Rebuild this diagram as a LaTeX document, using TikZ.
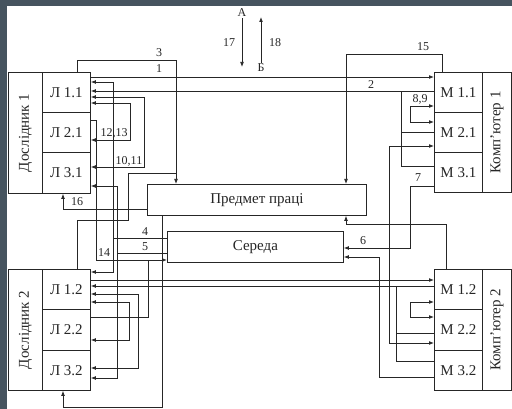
\documentclass[tikz,border=0pt]{standalone}
\usepackage{fontspec}
\setmainfont{Liberation Serif}
\usetikzlibrary{arrows.meta, positioning, calc}
\definecolor{dframe}{HTML}{46545F}
\definecolor{dline}{HTML}{262626}
\tikzset{
  blk/.style={draw=dline, line width=0.8pt, inner sep=0pt, anchor=north west,
              minimum width=48pt, font=\fontsize{15}{17}\selectfont, text=dline},
  wire/.style={draw=dline, line width=0.75pt},
  arr/.style={wire, -{Latex[length=5pt, width=3.8pt]}},
  barr/.style={wire, {Latex[length=5pt, width=3.8pt]}-{Latex[length=5pt, width=3.8pt]}},
  lbl/.style={font=\fontsize{12}{14}\selectfont, inner sep=1pt, text=dline},
}

\begin{document}
\begin{tikzpicture}[x=1pt, y=-1pt]

  \useasboundingbox (0,0) rectangle (512,409);
  \fill[dframe] (0,0) rectangle (512,409);
  \fill[white] (7,6) rectangle (512,409);

  % researchers
  \node[blk, minimum width=34pt, minimum height=121pt] (D1) at (8,72) {\rotatebox{90}{Дослідник 1}};
  \node[blk, minimum height=40pt] (L11) at (42,72) {Л 1.1};
  \node[blk, minimum height=40pt] (L21) at (42,112) {Л 2.1};
  \node[blk, minimum height=41pt] (L31) at (42,152) {Л 3.1};
  \node[blk, minimum width=34pt, minimum height=121pt] (D2) at (8,269) {\rotatebox{90}{Дослідник 2}};
  \node[blk, minimum height=40pt] (L12) at (42,269) {Л 1.2};
  \node[blk, minimum height=41pt] (L22) at (42,309) {Л 2.2};
  \node[blk, minimum height=40pt] (L32) at (42,350) {Л 3.2};

  % computers
  \node[blk, minimum width=29pt, minimum height=120pt] (K1) at (482,72) {\rotatebox{90}{Комп'ютер 1}};
  \node[blk, minimum height=40pt] (M11) at (434,72) {М 1.1};
  \node[blk, minimum height=40pt] (M21) at (434,112) {М 2.1};
  \node[blk, minimum height=40pt] (M31) at (434,152) {М 3.1};
  \node[blk, minimum width=29pt, minimum height=121pt] (K2) at (482,269) {\rotatebox{90}{Комп'ютер 2}};
  \node[blk, minimum height=40pt] (M12) at (434,269) {М 1.2};
  \node[blk, minimum height=41pt] (M22) at (434,309) {М 2.2};
  \node[blk, minimum height=40pt] (M32) at (434,350) {М 3.2};

  % subject of labour, environment
  \node[blk, minimum width=219pt, minimum height=31pt] (PP) at (147,184) {Предмет праці};
  \node[blk, minimum width=176pt, minimum height=31pt] (SE) at (167,231) {Середа};

  % top links
  \draw[arr] (L11.north -| 77,0) -- (77,60) -- (176,60) -- (PP.north -| 176,0);
  \draw[wire] (176,173) -- (128,173) -- (128,220) -- (77,220) -- (L12.north -| 77,0);
  \draw[arr] (L11.east |- 0,77) -- (M11.west |- 0,77);
  \draw[arr] (M11.west |- 0,91) -- (L11.east |- 0,91);
  \draw[wire] (M31.west |- 0,166) -- (401,166) -- (401,91);
  \draw[wire] (M21.west |- 0,132) -- (401,132);
  \draw[arr] (M11.north -| 442,0) -- (442,54) -- (346,54) -- (PP.north -| 346,0);
  \draw[barr] (M11.west |- 0,106) -- (410,106) -- (410,122) -- (M21.west |- 0,122);
  \draw[barr] (M21.west |- 0,146) -- (389,146) -- (389,343) -- (M22.west |- 0,343);
  \draw[arr] (M31.west |- 0,186) -- (410,186) -- (410,248) -- (SE.east |- 0,248);
  \draw[arr] (M32.west |- 0,377) -- (379,377) -- (379,257) -- (SE.east |- 0,257);
  \draw[arr] (M12.north -| 446,0) -- (446,224) -- (346,224) -- (PP.south -| 346,0);

  % researcher 2 -- computer 2
  \draw[arr] (L12.east |- 0,280) -- (M12.west |- 0,280);
  \draw[arr] (M12.west |- 0,286) -- (L12.east |- 0,286);
  \draw[wire] (M32.west |- 0,361) -- (396,361) -- (396,286);
  \draw[wire] (M22.west |- 0,333) -- (396,333);
  \draw[barr] (M12.west |- 0,302) -- (410,302) -- (410,317) -- (M22.west |- 0,317);

  % left side
  \draw[wire] (SE.west |- 0,238) -- (113,238);
  \draw[barr] (L11.east |- 0,82) -- (113,82) -- (113,272) -- (L12.east |- 0,272);
  \draw[wire] (SE.west |- 0,253) -- (117,253);
  \draw[barr] (L31.east |- 0,186) -- (117,186) -- (117,378) -- (L32.east |- 0,378);
  \draw[barr] (L11.east |- 0,97) -- (144,97) -- (144,167) -- (L31.east |- 0,167);
  \draw[barr] (L11.east |- 0,103) -- (130,103) -- (130,140) -- (L21.east |- 0,140);
  \draw[arr] (L21.east |- 0,120) -- (96,120) -- (96,260) -- (SE.west |- 0,260);
  \draw[wire] (L22.east |- 0,317) -- (148,317) -- (148,260);
  \draw[barr] (L12.east |- 0,294) -- (138,294) -- (138,368) -- (L32.east |- 0,368);
  \draw[barr] (L12.east |- 0,302) -- (129,302) -- (129,340) -- (L22.east |- 0,340);
  \draw[arr] (PP.west |- 0,209) -- (63,209) -- (L31.south -| 63,0);
  \draw[arr] (PP.south -| 162,0) -- (162,407) -- (63,407) -- (L32.south -| 63,0);

  % inputs / outputs
  \node[lbl] (inA) at (242,13) {А};
  \node[lbl] (outB) at (261,68) {Б};
  \coordinate (inA end) at (242,67);
  \coordinate (outB end) at (261,17);
  \draw[arr] (inA.south) -- (inA end);
  \draw[arr] (outB.north) -- (outB end);

  % link numbers
  \node[lbl] (n3) at (159,53) {3};
  \node[lbl] (n1) at (159,69) {1};
  \node[lbl] (n17) at (229,43) {17};
  \node[lbl] (n18) at (275,43) {18};
  \node[lbl] (n15) at (423,47) {15};
  \node[lbl] (n2) at (371,85) {2};
  \node[lbl] (n89) at (420,99) {8,9};
  \node[lbl] (n7) at (418,178) {7};
  \node[lbl] (n6) at (363,241) {6};
  \node[lbl] (n1213) at (114,133) {12,13};
  \node[lbl] (n1011) at (129,161) {10,11};
  \node[lbl] (n16) at (77,202) {16};
  \node[lbl] (n4) at (145,232) {4};
  \node[lbl] (n5) at (145,247) {5};
  \node[lbl] (n14) at (104,253) {14};

\end{tikzpicture}
\end{document}
